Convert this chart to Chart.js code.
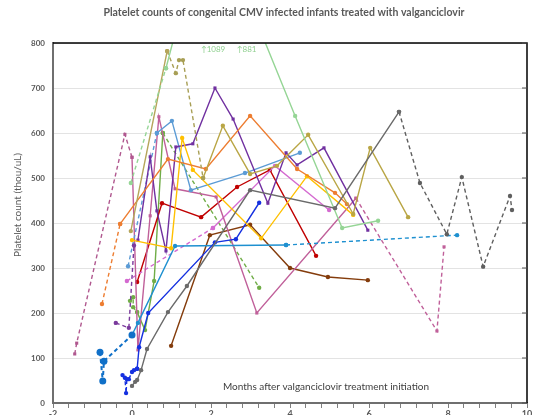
<!DOCTYPE html>
<html>
<head>
<meta charset="utf-8">
<script src="https://cdn.jsdelivr.net/npm/chart.js@4"></script>
<style>
html, body { margin: 0; padding: 0; background: #fff; overflow: hidden; }
#wrap { width: 536px; height: 415px; overflow: hidden; }
</style>
</head>
<body>
<div id="wrap"><canvas id="chart" width="536" height="428"></canvas></div>
<script>
// months after treatment start, platelet count (thou/uL)
var grayA = [[0, 38], [0.08, 47], [0.13, 51], [0.23, 73], [0.38, 120], [0.91, 202], [1.39, 260], [2.99, 473], [5.14, 433], [6.76, 647]];
var grayB = [[6.76, 647], [7.29, 489], [7.97, 375], [8.35, 502], [8.89, 303], [9.57, 460], [9.62, 429]];
var lightGreenA = [[-0.03, 489], [0.86, 744]];
var lightGreenB = [[0.86, 744], [1.89, 1089], [3.0, 881], [4.13, 638], [5.32, 389], [6.23, 405]];
var oliveA = [[-0.03, 382], [0.89, 782]];
var oliveB = [[0.89, 782], [1.11, 733], [1.19, 762], [1.29, 762], [1.8, 500]];
var khaki = [[1.8, 500], [2.3, 616], [2.99, 509], [3.67, 527], [4.46, 596], [5.6, 420], [6.03, 567], [6.99, 413]];
var orangeA = [[-0.76, 220], [-0.3, 398]];
var orangeB = [[-0.3, 398], [0.91, 542], [1.87, 520], [2.99, 638], [4.18, 520], [5.14, 467], [5.44, 442]];
var yellow = [[0, 362], [0.99, 344], [1.27, 589], [1.54, 518], [3.27, 366], [4.43, 504], [5.6, 418]];
var purple = [[0.15, 362], [0.46, 547], [0.63, 427], [0.86, 338], [1.11, 569], [1.54, 576], [2.1, 700], [2.56, 631], [3.44, 444], [3.9, 556], [4.18, 529], [4.86, 567], [5.97, 384]];
var purpleA = [[-0.41, 178], [-0.08, 167], [0.05, 350]];
var blueA = [[-0.24, 62], [-0.18, 56], [-0.15, 22], [-0.13, 53], [-0.08, 53], [0, 69], [0.05, 73], [0.13, 76]];
var blueB = [[0.13, 76], [0.18, 124], [0.41, 200], [2.1, 357], [2.63, 364], [3.22, 445]];
var bigBlueA = [[-0.81, 113], [-0.74, 49], [-0.71, 93], [0, 151]];
var cyan = [[0, 151], [0.15, 178], [1.09, 349], [3.9, 351]];
var cyanB = [[3.9, 351], [8.23, 373]];
var lightBlueA = [[-0.1, 304], [0.63, 600]];
var lightBlueB = [[0.63, 600], [1.01, 627], [1.49, 473], [2.86, 511], [4.25, 556]];
var mauveA = [[-1.45, 109], [-1.4, 133], [-0.18, 597], [0, 546]];
var mauveB = [[0, 546], [0.15, 118], [0.46, 416], [0.68, 636], [1.09, 476], [2.13, 458], [3.16, 200], [5.67, 455]];
var mauveC = [[5.67, 455], [7.72, 160], [7.9, 347]];
var magentaA = [[-0.13, 271], [2.05, 389]];
var magentaB = [[2.05, 389], [3.62, 527], [4.99, 429]];
var red = [[0.13, 269], [0.76, 444], [1.75, 413], [2.66, 480], [3.49, 518], [4.66, 327]];
var brown = [[0.99, 127], [1.97, 373], [2.99, 396], [4.0, 300], [4.96, 280], [5.97, 273]];
var greenA = [[-0.05, 227], [0.03, 235], [0.03, 213], [0.13, 202]];
var greenB = [[0.13, 202], [0.33, 162], [0.56, 271], [0.78, 600]];
var greenC = [[0.78, 600], [3.22, 256]];

var yTicks = [0, 100, 200, 300, 400, 500, 600, 700, 800];
var xTickLabels = [-2, 0, 2, 4, 6, 8, 10];
var offScale = ["\u21911089", "\u2191881"];
var offScaleX = [2.05, 2.9];

var dashed = [4, 3];
var lines = [
  { d: grayA, c: "#6A6A6A" },
  { d: grayB, c: "#5F5F5F", dash: true },
  { d: lightGreenA, c: "#95D595", dash: true },
  { d: lightGreenB, c: "#95D595" },
  { d: oliveA, c: "#B5A55A" },
  { d: oliveB, c: "#A89F55", dash: true },
  { d: khaki, c: "#B9A645" },
  { d: orangeA, c: "#ED7D31", dash: true },
  { d: orangeB, c: "#ED7D31" },
  { d: yellow, c: "#FFC000" },
  { d: purple, c: "#7030A0", shape: "rect" },
  { d: purpleA, c: "#7A3A9C", dash: true },
  { d: blueA, c: "#1530E0", dash: true },
  { d: blueB, c: "#1530E0" },
  { d: bigBlueA, c: "#1070C8", dash: true, big: true },
  { d: cyan, c: "#1E90D0" },
  { d: cyanB, c: "#1E90D0", dash: true },
  { d: lightBlueA, c: "#5B9BD5", dash: true },
  { d: lightBlueB, c: "#5B9BD5" },
  { d: mauveA, c: "#B0588F", dash: true, shape: "rect" },
  { d: mauveB, c: "#C0609A", shape: "rect" },
  { d: mauveC, c: "#C0609A", dash: true, shape: "rect" },
  { d: magentaA, c: "#D46AD0", dash: true },
  { d: magentaB, c: "#D46AD0" },
  { d: red, c: "#C00000" },
  { d: brown, c: "#843C0C" },
  { d: greenA, c: "#70AD47", dash: true },
  { d: greenB, c: "#70AD47" },
  { d: greenC, c: "#70AD47", dash: true }
];

var datasets = lines.map(function (s) {
  return {
    data: s.d.map(function (p) { return { x: p[0], y: p[1] }; }),
    borderColor: s.c,
    backgroundColor: s.c,
    borderWidth: s.big ? 2 : 1.4,
    borderDash: s.dash ? dashed : [],
    pointStyle: s.shape || "circle",
    pointRadius: s.big ? 3.5 : 2.2,
    pointBorderWidth: 0,
    tension: 0,
    fill: false
  };
});

var textPlugin = {
  id: "texts",
  afterDraw: function (chart) {
    var ctx = chart.ctx;
    var a = chart.chartArea;
    var xs = chart.scales.x, ys = chart.scales.y;
    ctx.save();
    // frame: top and right edges, inward ticks on the right
    ctx.strokeStyle = "#000";
    ctx.lineWidth = 1.5;
    ctx.beginPath();
    ctx.moveTo(a.left, a.top);
    ctx.lineTo(a.right, a.top);
    ctx.lineTo(a.right, a.bottom);
    ctx.stroke();
    ctx.lineWidth = 1;
    ctx.strokeStyle = "#555";
    yTicks.forEach(function (v) {
      var y = ys.getPixelForValue(v);
      ctx.beginPath();
      ctx.moveTo(a.right - 5, y);
      ctx.lineTo(a.right, y);
      ctx.stroke();
    });

    ctx.fillStyle = "#595959";
    ctx.textAlign = "center";
    ctx.textBaseline = "middle";
    ctx.font = "bold 10.5px Lato";
    ctx.fillText("Platelet counts of congenital CMV infected infants treated with valganciclovir", 284, 13);

    ctx.font = "10px Lato";
    ctx.fillStyle = "#404040";
    ctx.fillText("Months after valganciclovir treatment initiation", 326, 387);

    ctx.font = "8px Lato";
    ctx.fillStyle = "#8FD08F";
    offScale.forEach(function (t, i) {
      ctx.fillText(t, xs.getPixelForValue(offScaleX[i]), 49);
    });

    ctx.translate(18, 205);
    ctx.rotate(-Math.PI / 2);
    ctx.font = "10px Lato";
    ctx.fillStyle = "#595959";
    ctx.fillText("Platelet count (thou/uL)", 0, 0);
    ctx.restore();
  }
};

var config = {
  type: "line",
  data: { datasets: datasets },
  options: {
    responsive: false,
    animation: false,
    layout: { padding: { left: 0, top: 43, right: 9, bottom: 0 } },
    plugins: {
      legend: { display: false },
      tooltip: { enabled: false },
      title: { display: false }
    },
    scales: {
      x: {
        type: "linear",
        min: -2,
        max: 10,
        afterBuildTicks: function (scale) {
          var t = [];
          for (var i = 0; i <= 30; i++) {
            t.push({ value: Math.round((-2 + 0.4 * i) * 10) / 10 });
          }
          scale.ticks = t;
        },
        afterFit: function (scale) { scale.height = 25; },
        grid: { drawOnChartArea: false, drawTicks: true, tickLength: 5, color: "#7F7F7F" },
        border: { display: true, color: "#6F6F6F", width: 2 },
        ticks: {
          autoSkip: false,
          maxRotation: 0,
          padding: 1,
          color: "#595959",
          font: { family: "Lato", size: 9, weight: "bold" },
          callback: function (v) {
            return xTickLabels.indexOf(v) >= 0 ? String(v) : "";
          }
        }
      },
      y: {
        min: 0,
        max: 800,
        afterBuildTicks: function (scale) {
          scale.ticks = yTicks.map(function (v) { return { value: v }; });
        },
        afterFit: function (scale) { scale.width = 53; },
        grid: { color: "#E3E3E3", drawTicks: false },
        border: { display: true, color: "#6F6F6F", width: 2 },
        ticks: {
          padding: 8,
          color: "#595959",
          font: { family: "Lato", size: 8, weight: "bold" }
        }
      }
    }
  },
  plugins: [textPlugin]
};

window.chart = new Chart(document.getElementById("chart").getContext("2d"), config);
</script>
</body>
</html>
